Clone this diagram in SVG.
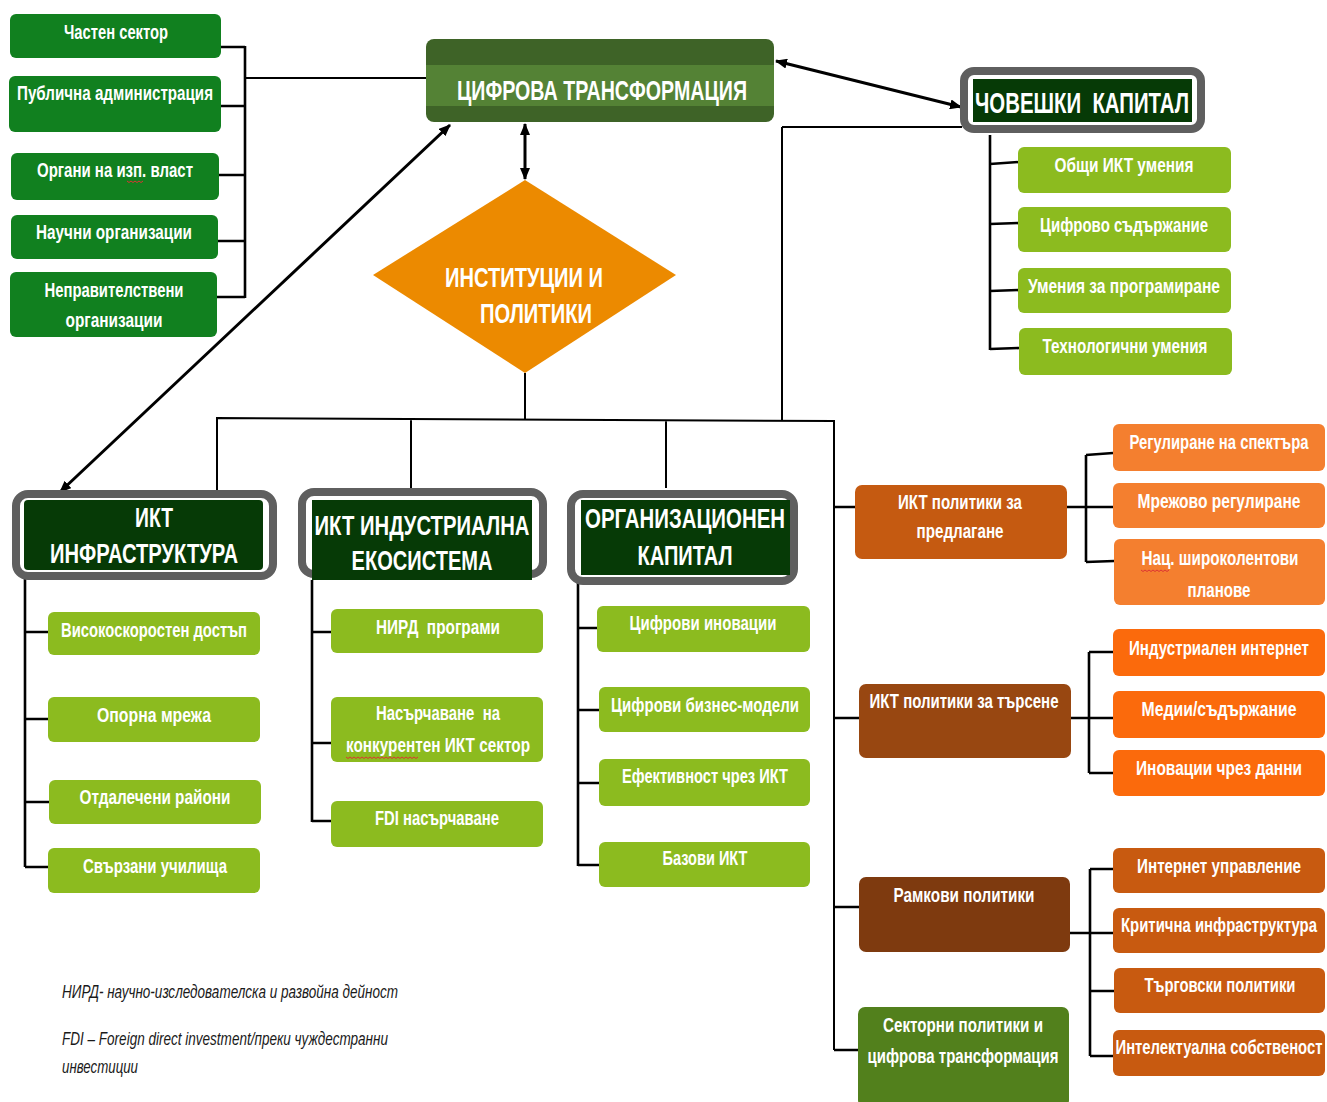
<svg xmlns="http://www.w3.org/2000/svg" width="1327" height="1102" viewBox="0 0 1327 1102">
<defs>
<marker id="ah" viewBox="0 0 12 10" refX="11" refY="5" markerWidth="12" markerHeight="10" markerUnits="userSpaceOnUse" orient="auto-start-reverse">
<path d="M0,0 L12,5 L0,10 Z" fill="#000"/>
</marker>
<style>
text{font-family:"Liberation Sans",Arial,sans-serif;font-weight:bold;fill:#fff;text-anchor:middle}
.t{font-size:20px}
.r{font-size:15px}
.h{font-size:27px}
.dg{fill:#11801f}
.lg{fill:#8cbb1f}
.o1{fill:#f47f2f}
.o2{fill:#fb6a0c}
.o3{fill:#c85a10}
.frame{fill:#fff;stroke:#5f5f5f;stroke-width:8}
.dark{fill:#063a06}
.c{fill:none;stroke:#000;stroke-width:2}
.c3{fill:none;stroke:#000;stroke-width:2.6}
.arr{fill:none;stroke:#000;stroke-width:3;marker-start:url(#ah);marker-end:url(#ah)}
.sq{fill:none;stroke:#d33;stroke-width:1}
.note{font-family:"Liberation Sans",Arial,sans-serif;font-style:italic;font-weight:normal;font-size:19px;fill:#1a1a1a;text-anchor:start}
</style>
</defs>

<g id="connectors">
<path class="c3" d="M245,46 V298 M221,47 H245 M221,106 H245 M219,175 H245 M218,241 H245 M217,297 H245"/>
<path class="c" d="M246,78 H426"/>
<path class="c" d="M217,493 V418 L834,421 V1050 M411,419 V490 M666,420 V488 M525,373 V419 M782,127 H962 M782,127 V420"/>
<path class="c3" d="M990,135 V350 M990,164 L1019,162 M990,224 L1019,223 M990,291 L1019,290 M990,349 L1019,348"/>
<path class="c3" d="M25,578 V867 M25,632 H48 M25,719 H48 M25,802 H49 M25,867 H48"/>
<path class="c3" d="M312,580 V822 M312,632 H331 M312,743 H331 M312,821 H331"/>
<path class="c3" d="M578,582 V866 M578,628 H599 M578,710 H599 M578,783 H599 M578,865 H599"/>
<path class="c3" d="M834,507 H855 M834,718 H859 M834,907 H859 M834,1050 H859"/>
<path class="c3" d="M1067,507 H1113 M1086,455 V562 M1086,455 L1113,453 M1086,562 L1114,561"/>
<path class="c3" d="M1071,718 H1113 M1089,652 V773 M1089,652 H1113 M1089,773 H1113"/>
<path class="c3" d="M1070,933 H1113 M1090,869 V1056 M1090,869 H1113 M1090,991 H1114 M1090,1056 H1113"/>
<line class="arr" x1="525" y1="124" x2="525" y2="179"/>
<line class="arr" x1="450" y1="125" x2="60" y2="492"/>
<line class="arr" x1="776" y1="61" x2="961" y2="107"/>
</g>

<g id="n-private"><rect class="dg" x="10" y="14" width="211" height="44" rx="6"/><text class="t" x="116" y="39" textLength="104" lengthAdjust="spacingAndGlyphs">Частен сектор</text></g>
<g id="n-public"><rect class="dg" x="9" y="76" width="212" height="56" rx="6"/><text class="t" x="115" y="100" textLength="196" lengthAdjust="spacingAndGlyphs">Публична администрация</text></g>
<g id="n-exec"><rect class="dg" x="11" y="153" width="208" height="47" rx="6"/><text class="t" x="115" y="177" textLength="156" lengthAdjust="spacingAndGlyphs">Органи на изп. власт</text><path class="sq" d="M127,181 l2,1.5 l2,-1.5 l2,1.5 l2,-1.5 l2,1.5 l2,-1.5 l2,1.5 l2,-1.5"/></g>
<g id="n-sci"><rect class="dg" x="11" y="215" width="207" height="44" rx="6"/><text class="t" x="114" y="239" textLength="156" lengthAdjust="spacingAndGlyphs">Научни организации</text></g>
<g id="n-ngo"><rect class="dg" x="10" y="272" width="207" height="65" rx="6"/><text class="t" x="114" y="297" textLength="139" lengthAdjust="spacingAndGlyphs">Неправителствени</text><text class="t" x="114" y="327" textLength="97" lengthAdjust="spacingAndGlyphs">организации</text></g>

<g id="n-digital">
<rect x="426" y="39" width="348" height="83" rx="8" fill="#3e6327"/>
<rect x="426" y="65" width="348" height="41" fill="#548235"/>
<text x="602" y="100" font-size="28" textLength="290" lengthAdjust="spacingAndGlyphs">ЦИФРОВА ТРАНСФОРМАЦИЯ</text>
</g>

<g id="n-inst">
<polygon points="525,180 676,275 525,373 373,275" fill="#ec8a00"/>
<text x="524" y="287" font-size="28" textLength="158" lengthAdjust="spacingAndGlyphs">ИНСТИТУЦИИ И</text>
<text x="536" y="323" font-size="28" textLength="112" lengthAdjust="spacingAndGlyphs">ПОЛИТИКИ</text>
</g>

<g id="n-human">
<rect class="frame" x="964" y="71" width="237" height="58" rx="10"/>
<rect class="dark" x="973" y="79" width="219" height="43"/>
<text x="1082" y="113" font-size="30" textLength="214" lengthAdjust="spacingAndGlyphs">ЧОВЕШКИ&#160; КАПИТАЛ</text>
</g>
<g id="n-hc1"><rect class="lg" x="1018" y="147" width="213" height="46" rx="6"/><text class="t" x="1124" y="172" textLength="139" lengthAdjust="spacingAndGlyphs">Общи ИКТ умения</text></g>
<g id="n-hc2"><rect class="lg" x="1018" y="207" width="213" height="45" rx="6"/><text class="t" x="1124" y="232" textLength="168" lengthAdjust="spacingAndGlyphs">Цифрово съдържание</text></g>
<g id="n-hc3"><rect class="lg" x="1018" y="268" width="213" height="45" rx="6"/><text class="t" x="1124" y="293" textLength="192" lengthAdjust="spacingAndGlyphs">Умения за програмиране</text></g>
<g id="n-hc4"><rect class="lg" x="1019" y="328" width="213" height="47" rx="6"/><text class="t" x="1125" y="353" textLength="165" lengthAdjust="spacingAndGlyphs">Технологични умения</text><text class="t" x="1125" y="386" textLength="110" lengthAdjust="spacingAndGlyphs">програмиране</text></g>

<g id="n-infra">
<rect class="frame" x="16" y="494" width="257" height="82" rx="12"/>
<rect class="dark" x="24" y="500" width="239" height="70" rx="4"/>
<text class="h" x="154" y="527" textLength="38" lengthAdjust="spacingAndGlyphs">ИКТ</text>
<text class="h" x="144" y="563" textLength="188" lengthAdjust="spacingAndGlyphs">ИНФРАСТРУКТУРА</text>
</g>
<g id="n-ind">
<rect class="frame" x="302" y="492" width="241" height="82" rx="12"/>
<rect class="dark" x="312" y="500" width="220" height="80"/>
<text class="h" x="422" y="535" textLength="215" lengthAdjust="spacingAndGlyphs">ИКТ ИНДУСТРИАЛНА</text>
<text class="h" x="422" y="570" textLength="141" lengthAdjust="spacingAndGlyphs">ЕКОСИСТЕМА</text>
</g>
<g id="n-org">
<rect class="frame" x="571" y="494" width="223" height="87" rx="12"/>
<rect class="dark" x="581" y="500" width="209" height="75"/>
<text class="h" x="685" y="528" textLength="200" lengthAdjust="spacingAndGlyphs">ОРГАНИЗАЦИОНЕН</text>
<text class="h" x="685" y="565" textLength="95" lengthAdjust="spacingAndGlyphs">КАПИТАЛ</text>
</g>

<g id="n-i1"><rect class="lg" x="48" y="612" width="212" height="43" rx="6"/><text class="t" x="154" y="637" textLength="186" lengthAdjust="spacingAndGlyphs">Високоскоростен достъп</text></g>
<g id="n-i2"><rect class="lg" x="48" y="697" width="212" height="45" rx="6"/><text class="t" x="154" y="722" textLength="114" lengthAdjust="spacingAndGlyphs">Опорна мрежа</text></g>
<g id="n-i3"><rect class="lg" x="49" y="780" width="212" height="44" rx="6"/><text class="t" x="155" y="804" textLength="151" lengthAdjust="spacingAndGlyphs">Отдалечени райони</text></g>
<g id="n-i4"><rect class="lg" x="48" y="848" width="212" height="45" rx="6"/><text class="t" x="155" y="873" textLength="144" lengthAdjust="spacingAndGlyphs">Свързани училища</text></g>

<g id="n-e1"><rect class="lg" x="331" y="609" width="212" height="44" rx="6"/><text class="t" x="438" y="634" textLength="124" lengthAdjust="spacingAndGlyphs">НИРД&#160; програми</text></g>
<g id="n-e2"><rect class="lg" x="331" y="697" width="212" height="65" rx="6"/><text class="t" x="438" y="720" textLength="124" lengthAdjust="spacingAndGlyphs">Насърчаване&#160; на</text><text class="t" x="438" y="752" textLength="184" lengthAdjust="spacingAndGlyphs">конкурентен ИКТ сектор</text><path class="sq" d="M346,757 l2,1.5 l2,-1.5 l2,1.5 l2,-1.5 l2,1.5 l2,-1.5 l2,1.5 l2,-1.5 l2,1.5 l2,-1.5 l2,1.5 l2,-1.5 l2,1.5 l2,-1.5 l2,1.5 l2,-1.5 l2,1.5 l2,-1.5 l2,1.5 l2,-1.5 l2,1.5 l2,-1.5 l2,1.5 l2,-1.5 l2,1.5 l2,-1.5 l2,1.5 l2,-1.5 l2,1.5 l2,-1.5 l2,1.5 l2,-1.5 l2,1.5 l2,-1.5 l2,1.5 l2,-1.5"/></g>
<g id="n-e3"><rect class="lg" x="331" y="801" width="212" height="46" rx="6"/><text class="t" x="437" y="825" textLength="124" lengthAdjust="spacingAndGlyphs">FDI насърчаване</text></g>

<g id="n-o1"><rect class="lg" x="597" y="606" width="213" height="46" rx="6"/><text class="t" x="703" y="630" textLength="147" lengthAdjust="spacingAndGlyphs">Цифрови иновации</text></g>
<g id="n-o2"><rect class="lg" x="599" y="687" width="211" height="45" rx="6"/><text class="t" x="705" y="712" textLength="188" lengthAdjust="spacingAndGlyphs">Цифрови бизнес-модели</text></g>
<g id="n-o3"><rect class="lg" x="599" y="759" width="211" height="47" rx="6"/><text class="t" x="705" y="783" textLength="166" lengthAdjust="spacingAndGlyphs">Ефективност чрез ИКТ</text></g>
<g id="n-o4"><rect class="lg" x="599" y="842" width="211" height="45" rx="6"/><text class="t" x="705" y="865" textLength="85" lengthAdjust="spacingAndGlyphs">Базови ИКТ</text></g>

<g id="n-supply"><rect x="855" y="485" width="212" height="74" rx="7" fill="#c55a11"/><text class="t" x="960" y="509" textLength="124" lengthAdjust="spacingAndGlyphs">ИКТ политики за</text><text class="t" x="960" y="538" textLength="87" lengthAdjust="spacingAndGlyphs">предлагане</text></g>
<g id="n-demand"><rect x="859" y="684" width="212" height="74" rx="7" fill="#984711"/><text class="t" x="964" y="708" textLength="189" lengthAdjust="spacingAndGlyphs">ИКТ политики за търсене</text></g>
<g id="n-frame"><rect x="859" y="877" width="211" height="75" rx="7" fill="#7e3a0f"/><text class="t" x="964" y="902" textLength="141" lengthAdjust="spacingAndGlyphs">Рамкови политики</text></g>
<g id="n-sector"><rect x="858" y="1007" width="211" height="100" rx="7" fill="#52801c"/><text class="t" x="963" y="1032" textLength="160" lengthAdjust="spacingAndGlyphs">Секторни политики и</text><text class="t" x="963" y="1063" textLength="191" lengthAdjust="spacingAndGlyphs">цифрова трансформация</text></g>

<g id="n-s1"><rect class="o1" x="1113" y="424" width="212" height="47" rx="6"/><text class="r" x="1219" y="0" transform="translate(0,449) scale(1,1.333)" textLength="179" lengthAdjust="spacingAndGlyphs">Регулиране на спектъра</text></g>
<g id="n-s2"><rect class="o1" x="1113" y="483" width="212" height="45" rx="6"/><text class="r" x="1219" y="0" transform="translate(0,508) scale(1,1.333)" textLength="163" lengthAdjust="spacingAndGlyphs">Мрежово регулиране</text></g>
<g id="n-s3"><rect class="o1" x="1114" y="539" width="211" height="66" rx="6"/><text class="r" x="1220" y="0" transform="translate(0,565) scale(1,1.333)" textLength="157" lengthAdjust="spacingAndGlyphs">Нац. широколентови</text><text class="t" x="1219" y="597" textLength="63" lengthAdjust="spacingAndGlyphs">планове</text><path class="sq" d="M1141,570 l2,1.5 l2,-1.5 l2,1.5 l2,-1.5 l2,1.5 l2,-1.5 l2,1.5 l2,-1.5 l2,1.5 l2,-1.5 l2,1.5 l2,-1.5 l2,1.5 l2,-1.5"/></g>

<g id="n-d1"><rect class="o2" x="1113" y="629" width="212" height="47" rx="6"/><text class="r" x="1219" y="0" transform="translate(0,655) scale(1,1.333)" textLength="180" lengthAdjust="spacingAndGlyphs">Индустриален интернет</text></g>
<g id="n-d2"><rect class="o2" x="1113" y="691" width="212" height="47" rx="6"/><text class="r" x="1219" y="0" transform="translate(0,716) scale(1,1.333)" textLength="155" lengthAdjust="spacingAndGlyphs">Медии/съдържание</text></g>
<g id="n-d3"><rect class="o2" x="1113" y="750" width="212" height="46" rx="6"/><text class="r" x="1219" y="0" transform="translate(0,775) scale(1,1.333)" textLength="166" lengthAdjust="spacingAndGlyphs">Иновации чрез данни</text></g>

<g id="n-f1"><rect class="o3" x="1113" y="848" width="212" height="45" rx="6"/><text class="r" x="1219" y="0" transform="translate(0,873) scale(1,1.333)" textLength="164" lengthAdjust="spacingAndGlyphs">Интернет управление</text></g>
<g id="n-f2"><rect class="o3" x="1113" y="908" width="212" height="45" rx="6"/><text class="r" x="1219" y="0" transform="translate(0,932) scale(1,1.333)" textLength="196" lengthAdjust="spacingAndGlyphs">Критична инфраструктура</text></g>
<g id="n-f3"><rect class="o3" x="1114" y="968" width="211" height="45" rx="6"/><text class="r" x="1220" y="0" transform="translate(0,992) scale(1,1.333)" textLength="151" lengthAdjust="spacingAndGlyphs">Търговски политики</text></g>
<g id="n-f4"><rect class="o3" x="1113" y="1030" width="212" height="46" rx="6"/><text class="r" x="1219" y="0" transform="translate(0,1054) scale(1,1.333)" textLength="207" lengthAdjust="spacingAndGlyphs">Интелектуална собственост</text></g>

<g id="notes">
<text class="note" x="62" y="998" textLength="336" lengthAdjust="spacingAndGlyphs">НИРД- научно-изследователска и развойна дейност</text>
<text class="note" x="62" y="1045" textLength="326" lengthAdjust="spacingAndGlyphs">FDI – Foreign direct investment/преки чуждестранни</text>
<text class="note" x="62" y="1073" textLength="76" lengthAdjust="spacingAndGlyphs">инвестиции</text>
</g>
</svg>
